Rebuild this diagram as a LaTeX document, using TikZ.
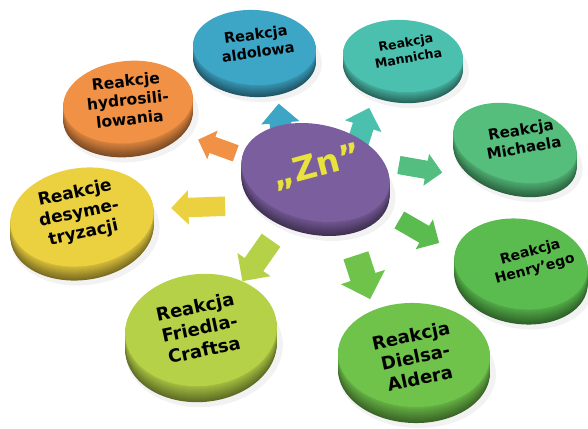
\documentclass[tikz,border=0pt]{standalone}
\usepackage{fontspec}
\setmainfont{DejaVu Sans}
\usetikzlibrary{shapes.geometric,shapes.arrows}
\definecolor{cblue}{HTML}{3DA5C6}
\definecolor{cteal}{HTML}{4CC0AE}
\definecolor{cmich}{HTML}{55BE7C}
\definecolor{chenry}{HTML}{5ABB4E}
\definecolor{cdiels}{HTML}{6FC24A}
\definecolor{cfried}{HTML}{B5D147}
\definecolor{cyellow}{HTML}{EBD040}
\definecolor{corange}{HTML}{F09145}
\definecolor{cpurple}{HTML}{7B5E9E}
\definecolor{znyellow}{HTML}{E8E23C}
\tikzset{
  disctext/.style={font=\bfseries, align=center, text=black, inner sep=0pt},
  barrow/.style={single arrow, draw=none, inner xsep=0pt, outer sep=0pt},
  zntext/.style={font=\bfseries\fontsize{33}{36}\selectfont, inner sep=0pt, rotate=15},
}
% #1 name, #2 x, #3 y, #4 rx, #5 ry, #6 rot, #7 depth, #8 colour
\newcommand\drawdisc[8]{%
  \fill[black, opacity=0.05, rotate around={#6:(#2+3,#3+#7+2)}] (#2+3,#3+#7+2) ellipse [x radius=#4pt+3pt, y radius=#5pt+3pt];
  \foreach \i in {#7,...,1}{%
    \pgfmathtruncatemacro\p{92-round(40*\i/#7)}%
    \fill[#8!\p!black, rotate around={#6:(#2,#3+\i)}] (#2,#3+\i) ellipse [x radius=#4pt, y radius=#5pt];
  }%
  \node[ellipse, inner sep=0pt, fill=#8, minimum width={2*#4pt}, minimum height={2*#5pt}, rotate=#6] (#1) at (#2,#3) {};
}
% #1 name, #2 colour, #3 x, #4 y, #5 angle, #6 length, #7 width
\newcommand\drawarrow[7]{%
  \node[barrow, fill=#2, rotate=#5, minimum height={#6pt}, inner ysep={0.28*#7pt}, single arrow head extend={0.22*#7pt}] (#1) at (#3,#4) {};
}
\begin{document}
\begin{tikzpicture}[x=1pt,y=-1pt]
\useasboundingbox (0,0) rectangle (588,428);
% arrows
\drawarrow{a8}{corange}{221}{148}{160}{40}{30}
\drawarrow{a1}{cblue}{281}{130}{95}{42}{38}
\drawarrow{a2}{cteal}{361}{133}{72}{42}{38}
\drawarrow{a3}{cmich!90!cteal}{416}{168}{-10}{44}{32}
\drawarrow{a4}{chenry}{415}{229}{-30}{46}{34}
\drawarrow{a5}{cdiels}{361}{271}{-72}{46}{46}
\drawarrow{a6}{cfried}{260}{256}{-125}{50}{40}
\drawarrow{a7}{cyellow}{203}{207}{182}{54}{34}
% discs
\drawdisc{d1}{254.5}{47.5}{61.5}{37.5}{-3}{12}{cblue}
\drawdisc{d2}{403}{56}{60}{36}{-4}{11}{cteal}
\drawdisc{d3}{515}{143}{63}{38}{-15}{14}{cmich}
\drawdisc{d4}{521}{264}{67}{45}{-8}{15}{chenry}
\drawdisc{d5}{414}{355}{76}{52}{-2}{16}{cdiels}
\drawdisc{d6}{201}{330}{76}{56}{5}{16}{cfried}
\drawdisc{d7}{82}{217}{72}{49}{8}{14}{cyellow}
\drawdisc{d8}{128}{102}{65}{41}{6}{14}{corange}
\drawdisc{c}{315.5}{172.5}{75}{48}{-12}{14}{cpurple}
% texts
\node[disctext, font=\bfseries\fontsize{14.5}{18}\selectfont, rotate=8] (t1) at (d1.center) [xshift=3pt, yshift=4pt] {Reakcja\\aldolowa};
\node[disctext, font=\bfseries\fontsize{12.5}{15.5}\selectfont, rotate=10] (t2) at (d2.center) [xshift=5pt, yshift=5pt] {Reakcja\\Mannicha};
\node[disctext, font=\bfseries\fontsize{15}{18.5}\selectfont, rotate=10] (t3) at (d3.center) [xshift=8pt, yshift=3pt] {Reakcja\\Michaela};
\node[disctext, font=\bfseries\fontsize{14}{17.5}\selectfont, rotate=15] (t4) at (d4.center) [xshift=12pt, yshift=0pt] {Reakcja\\Henry’ego};
\node[disctext, font=\bfseries\fontsize{18}{22}\selectfont, rotate=12] (t5) at (d5.center) [xshift=1pt, yshift=-2pt] {Reakcja\\Dielsa-\\Aldera};
\node[disctext, font=\bfseries\fontsize{18}{22}\selectfont, rotate=12] (t6) at (d6.center) [xshift=-1pt, yshift=2pt] {Reakcja\\Friedla-\\Craftsa};
\node[disctext, font=\bfseries\fontsize{17}{20.5}\selectfont, rotate=12] (t7) at (d7.center) [xshift=-2pt, yshift=4pt] {Reakcje\\desyme-\\tryzacji};
\node[disctext, font=\bfseries\fontsize{15.5}{19}\selectfont, rotate=6] (t8) at (d8.center) [yshift=2pt] {Reakcje\\hydrosili-\\lowania};
\node[zntext, text=znyellow] (zn) at (317,167) {„Zn”};
\end{tikzpicture}
\end{document}
